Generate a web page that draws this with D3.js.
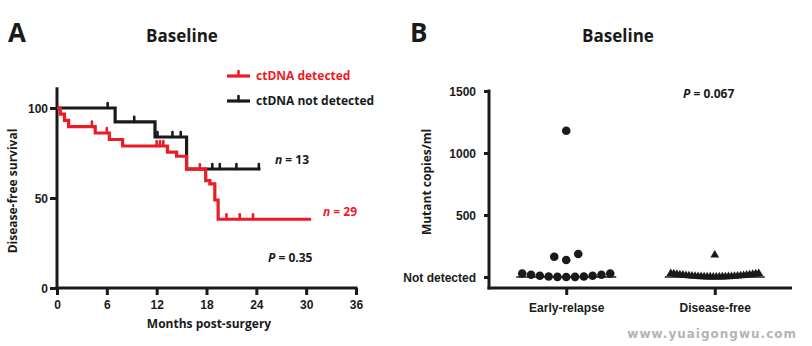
<!DOCTYPE html>
<html>
<head>
<meta charset="utf-8">
<script src="https://cdn.jsdelivr.net/npm/d3@7"></script>
<style>
  body { margin: 0; background: #fff; }
  svg { display: block; font-family: "Open Sans", "Noto Sans", sans-serif; font-weight: 700; }
</style>
</head>
<body>
<div id="chart"></div>
<script>
// ---------------------------------------------
// data
// ---------------------------------------------
// panel A: Kaplan-Meier steps (months, % disease-free)
const detectedTimes = [0, 0.4, 0.9, 1.4, 4.6, 6.3, 7.9, 13.3, 14.4, 15.6, 17.9, 18.4, 19.0, 19.4, 30.6];
const detectedSurv  = [100, 96.6, 93.1, 89.7, 86.1, 82.5, 78.9, 75.5, 73.2, 66.0, 59.6, 57.8, 48.9, 38.2, 38.2];
const detectedCensor = [4.2, 6.0, 12.0, 12.4, 12.8, 17.2, 20.4, 22.0, 23.6];

const notDetectedTimes = [0, 7.0, 11.8, 15.6, 24.5];
const notDetectedSurv  = [100, 92.3, 83.9, 66.1, 66.1];
const notDetectedCensor = [6.1, 9.3, 12.1, 13.9, 14.9, 18.7, 19.6, 21.6, 24.3];

const monthTicks = [0, 6, 12, 18, 24, 30, 36];
const survTicks = [0, 50, 100];

// panel B: mutant copies/ml per patient (0 = not detected)
const groups = ["Early-relapse", "Disease-free"];
const earlyRelapse = [1180, 163, 137, 185, 0, 0, 0, 0, 0, 0, 0, 0, 0, 0, 0];
const diseaseFree = [177, 0, 0, 0, 0, 0, 0, 0, 0, 0, 0, 0, 0, 0, 0, 0, 0, 0, 0, 0, 0, 0, 0, 0, 0, 0, 0, 0, 0, 0, 0];
const copyTicks = [0, 500, 1000, 1500];

const red = "#ed1c24",
      ink = "#1a1a1a";

let svg = d3.select("#chart").append("svg")
    .attr("width", 812)
    .attr("height", 346);

// ---------------------------------------------
// panel A
// ---------------------------------------------
let x = d3.scaleLinear().domain([0, 36]).range([57, 356]),
    y = d3.scaleLinear().domain([0, 100]).range([288, 108]);

svg.append("text").attr("x", 8).attr("y", 42).attr("font-size", 26).attr("fill", ink).text("A");
svg.append("text").attr("x", 182).attr("y", 42).attr("font-size", 17).attr("text-anchor", "middle")
    .attr("fill", ink).text("Baseline");

let gA = svg.append("g");

// axes
let xAxis = gA.append("g")
    .attr("transform", "translate(0," + y(0) + ")")
    .call(d3.axisBottom(x).tickValues(monthTicks).tickSize(7).tickPadding(5).tickSizeOuter(0));
let yAxis = gA.append("g")
    .attr("transform", "translate(" + x(0) + ",0)")
    .call(d3.axisLeft(y).tickValues(survTicks).tickSize(7).tickPadding(2).tickSizeOuter(0));
[xAxis, yAxis].forEach(a => {
  a.select(".domain").remove();
  a.selectAll("line").attr("stroke", ink).attr("stroke-width", 3);
  a.selectAll("text").attr("font-size", 12).attr("fill", ink).attr("font-family", null);
});
yAxis.selectAll("text").attr("dy", "0.36em");
gA.append("line").attr("x1", x(0)).attr("x2", x(0)).attr("y1", y(0) + 1.5).attr("y2", y(111.5))
    .attr("stroke", ink).attr("stroke-width", 3);
gA.append("line").attr("x1", x(0) - 1.5).attr("x2", x(36) + 1.5).attr("y1", y(0)).attr("y2", y(0))
    .attr("stroke", ink).attr("stroke-width", 3);

gA.append("text").attr("x", 209).attr("y", 328).attr("text-anchor", "middle")
    .attr("font-size", 12).attr("fill", ink).text("Months post-surgery");
gA.append("text").attr("transform", "translate(17,191) rotate(-90)").attr("text-anchor", "middle")
    .attr("font-size", 12).attr("fill", ink).text("Disease-free survival");

// step curves
function survAt(times, surv, t) {
  let v = surv[0];
  times.forEach((tt, i) => { if (tt <= t) v = surv[i]; });
  return v;
}

let step = d3.line()
    .x(d => x(d[0]))
    .y(d => y(d[1]))
    .curve(d3.curveStepAfter);

function drawCurve(times, surv, censor, color) {
  gA.append("path")
      .datum(d3.zip(times, surv))
      .attr("d", step)
      .attr("fill", "none")
      .attr("stroke", color)
      .attr("stroke-width", 3.2);
  gA.append("g").selectAll("line")
      .data(censor)
    .enter().append("line")
      .attr("x1", d => x(d)).attr("x2", d => x(d))
      .attr("y1", d => y(survAt(times, surv, d)))
      .attr("y2", d => y(survAt(times, surv, d)) - 5)
      .attr("stroke", color)
      .attr("stroke-width", 2.6)
      .attr("stroke-linecap", "round");
}
drawCurve(notDetectedTimes, notDetectedSurv, notDetectedCensor, ink);
drawCurve(detectedTimes, detectedSurv, detectedCensor, red);

// legend
let legend = gA.append("g").selectAll("g")
    .data([{label: "ctDNA detected", color: red, ly: 76},
           {label: "ctDNA not detected", color: ink, ly: 101}])
  .enter().append("g");
legend.append("line").attr("x1", 227).attr("x2", 250).attr("y1", d => d.ly).attr("y2", d => d.ly)
    .attr("stroke", d => d.color).attr("stroke-width", 3.2);
legend.append("line").attr("x1", 238.5).attr("x2", 238.5).attr("y1", d => d.ly).attr("y2", d => d.ly - 5)
    .attr("stroke", d => d.color).attr("stroke-width", 2.6).attr("stroke-linecap", "round");
legend.append("text").attr("x", 256).attr("y", d => d.ly + 4.3)
    .attr("font-size", 12).attr("fill", d => d.color).text(d => d.label);

// annotations
function stat(g, px, py, sym, rest, color) {
  let t = g.append("text").attr("x", px).attr("y", py).attr("font-size", 12).attr("fill", color);
  t.append("tspan").attr("font-style", "italic").text(sym);
  t.append("tspan").text(rest);
}
stat(gA, 275, 164, "n", " = 13", ink);
stat(gA, 323, 216, "n", " = 29", red);
stat(gA, 268, 262, "P", " = 0.35", ink);

// ---------------------------------------------
// panel B
// ---------------------------------------------
let x2 = d3.scalePoint().domain(groups).range([489, 792]).padding(0.52),
    y2 = d3.scaleLinear().domain([0, 1500]).range([277, 91]);

svg.append("text").attr("x", 410).attr("y", 42).attr("font-size", 26).attr("fill", ink).text("B");
svg.append("text").attr("x", 618).attr("y", 42).attr("font-size", 17).attr("text-anchor", "middle")
    .attr("fill", ink).text("Baseline");

let gB = svg.append("g");
let xAxis2 = gB.append("g")
    .attr("transform", "translate(0,288)")
    .call(d3.axisBottom(x2).tickSize(7).tickPadding(8).tickSizeOuter(0));
let yAxis2 = gB.append("g")
    .attr("transform", "translate(489,0)")
    .call(d3.axisLeft(y2).tickValues(copyTicks).tickSize(5).tickPadding(8).tickSizeOuter(0)
        .tickFormat(d => d === 0 ? "Not detected" : d));
[xAxis2, yAxis2].forEach(a => {
  a.select(".domain").remove();
  a.selectAll("line").attr("stroke", ink).attr("stroke-width", 3);
  a.selectAll("text").attr("font-size", 12).attr("fill", ink).attr("font-family", null);
});
yAxis2.selectAll("text").attr("dy", "0.36em");
gB.append("line").attr("x1", 489).attr("x2", 489).attr("y1", 289.5).attr("y2", y2(1512))
    .attr("stroke", ink).attr("stroke-width", 3);
gB.append("line").attr("x1", 487.5).attr("x2", 792).attr("y1", 288).attr("y2", 288)
    .attr("stroke", ink).attr("stroke-width", 3);

gB.append("text").attr("transform", "translate(431,182) rotate(-90)").attr("text-anchor", "middle")
    .attr("font-size", 12).attr("fill", ink).text("Mutant copies/ml");

stat(gB, 683, 98, "P", " = 0.067", ink);

// scatter layout: points in the same row spread sideways
function spread(values, cx) {
  let pts = values.map((v, i) => ({v: v, i: i, py: y2(v)}));
  let rows = [];
  pts.slice().sort((a, b) => a.py - b.py).forEach(p => {
    let row = rows.find(r => Math.abs(r[0].py - p.py) < 9);
    if (row) row.push(p); else rows.push([p]);
  });
  rows.forEach(r => {
    r.sort((a, b) => a.i - b.i);
    let n = r.length,
        s = n > 1 ? Math.min(12, 88 / (n - 1)) : 0,
        half = (n - 1) / 2 * s;
    r.forEach((p, k) => {
      let off = (k - (n - 1) / 2) * s;
      p.px = cx + off;
      p.py = p.py - (n > 5 ? 3.5 * Math.pow(off / half, 2) : 0);
    });
  });
  return pts;
}

// median lines
[earlyRelapse, diseaseFree].forEach((vals, gi) => {
  let cx = x2(groups[gi]);
  gB.append("line").attr("x1", cx - 50).attr("x2", cx + 50)
      .attr("y1", y2(d3.median(vals))).attr("y2", y2(d3.median(vals)))
      .attr("stroke", ink).attr("stroke-width", 1.5);
});

gB.append("g").selectAll("circle")
    .data(spread(earlyRelapse, x2(groups[0])))
  .enter().append("circle")
    .attr("cx", d => d.px)
    .attr("cy", d => d.py)
    .attr("r", 4.3)
    .attr("fill", ink);

gB.append("g").selectAll("path")
    .data(spread(diseaseFree, x2(groups[1])))
  .enter().append("path")
    .attr("transform", d => "translate(" + d.px + "," + d.py + ")")
    .attr("d", d3.symbol(d3.symbolTriangle, 34))
    .attr("fill", ink);

// watermark
svg.append("text").attr("x", 797).attr("y", 338).attr("text-anchor", "end")
    .attr("font-size", 12).attr("font-weight", 700).attr("fill", "#b4b4b4").attr("letter-spacing", 1)
    .attr("font-family", "DejaVu Sans, sans-serif")
    .text("www.yuaigongwu.com");
</script>
</body>
</html>
